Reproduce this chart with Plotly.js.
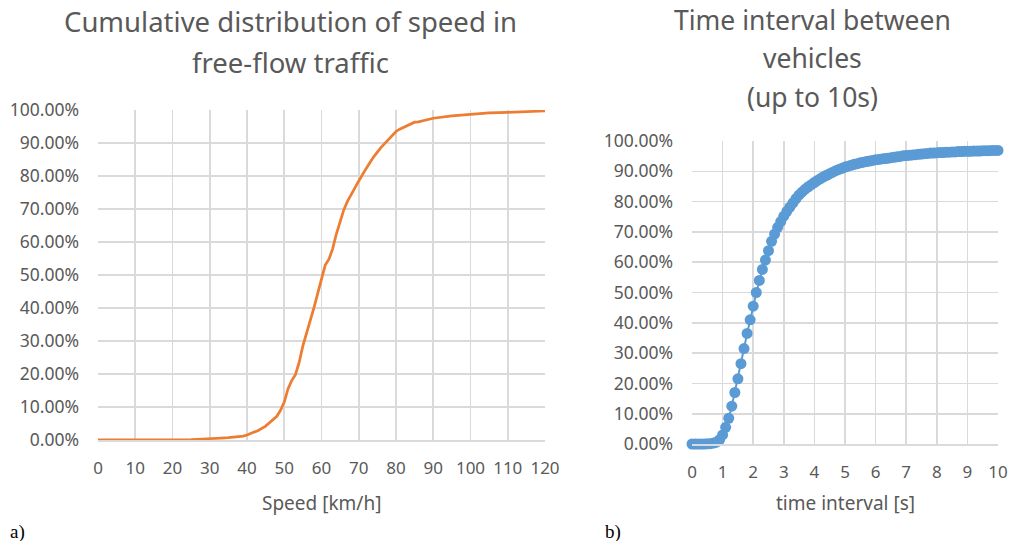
<!DOCTYPE html>
<html>
<head>
<meta charset="utf-8">
<script src="https://cdn.plot.ly/plotly-3.0.1.min.js"></script>
<style>
  html, body { margin: 0; padding: 0; background: #ffffff; }
  #chart { width: 1010px; height: 541px; }
</style>
</head>
<body>
<div id="chart"></div>
<script>
// ---- Chart a): cumulative distribution of speed ----
const speedKmh = [0,5,10,15,20,25,28,30,33,35,37,39,40,41,42,43,45,46,48,49,50,51,52,53,54,55,57,58,59,60,61,62,63,64,65,66,67,68,70,72,74,76,78,80,81,83,85,86,88,90,95,100,105,110,115,120];
const speedCdf = [0,0,0,0,0,0.001,0.003,0.005,0.006,0.007,0.009,0.012,0.015,0.019,0.024,0.029,0.042,0.052,0.072,0.090,0.115,0.155,0.180,0.198,0.235,0.285,0.360,0.402,0.445,0.485,0.530,0.548,0.580,0.625,0.665,0.698,0.724,0.745,0.785,0.823,0.858,0.887,0.912,0.935,0.942,0.952,0.963,0.964,0.970,0.975,0.982,0.987,0.991,0.993,0.995,0.997];

// ---- Chart b): time interval between vehicles (up to 10 s) ----
const intervalS = [0.0,0.1,0.2,0.3,0.4,0.5,0.6,0.7,0.8,0.9,
  1.0,1.1,1.2,1.3,1.4,1.5,1.6,1.7,1.8,1.9,
  2.0,2.1,2.2,2.3,2.4,2.5,2.6,2.7,2.8,2.9,
  3.0,3.1,3.2,3.3,3.4,3.5,3.6,3.7,3.8,3.9,
  4.0,4.1,4.2,4.3,4.4,4.5,4.6,4.7,4.8,4.9,
  5.0,5.1,5.2,5.3,5.4,5.5,5.6,5.7,5.8,5.9,
  6.0,6.1,6.2,6.3,6.4,6.5,6.6,6.7,6.8,6.9,
  7.0,7.1,7.2,7.3,7.4,7.5,7.6,7.7,7.8,7.9,
  8.0,8.1,8.2,8.3,8.4,8.5,8.6,8.7,8.8,8.9,
  9.0,9.1,9.2,9.3,9.4,9.5,9.6,9.7,9.8,9.9,10.0];
const intervalCdf = [0,0,0,0,0,0.0005,0.001,0.003,0.006,0.014,
  0.030,0.055,0.085,0.125,0.170,0.215,0.265,0.315,0.365,0.410,
  0.455,0.500,0.540,0.576,0.607,0.638,0.669,0.693,0.715,0.734,
  0.752,0.768,0.782,0.796,0.810,0.822,0.832,0.841,0.849,0.856,
  0.863,0.870,0.876,0.882,0.887,0.892,0.897,0.902,0.906,0.910,
  0.914,0.917,0.920,0.923,0.925,0.928,0.930,0.932,0.934,0.936,
  0.938,0.939,0.941,0.942,0.943,0.945,0.946,0.948,0.949,0.951,
  0.952,0.953,0.954,0.955,0.956,0.957,0.958,0.959,0.960,0.960,
  0.961,0.962,0.962,0.963,0.963,0.964,0.964,0.965,0.965,0.966,
  0.966,0.966,0.967,0.967,0.967,0.968,0.968,0.968,0.969,0.969,0.969];

const xTicksA = [0,10,20,30,40,50,60,70,80,90,100,110,120];
const xTicksB = [0,1,2,3,4,5,6,7,8,9,10];
const yTicks = [0,0.1,0.2,0.3,0.4,0.5,0.6,0.7,0.8,0.9,1.0];

const titleA = ["Cumulative distribution of speed in", "free-flow traffic"];
const titleB = ["Time interval between", "vehicles", "(up to 10s)"];
const xTitleA = "Speed [km/h]";
const xTitleB = "time interval [s]";

const GRAY = "#595959";
const GRID = "#dadada";
const FONT = "Noto Sans, Open Sans, sans-serif";

const traces = [
  {
    x: speedKmh, y: speedCdf, type: "scatter", mode: "lines",
    line: {color: "#ed7d31", width: 2.75},
    xaxis: "x", yaxis: "y", cliponaxis: false, hoverinfo: "x+y"
  },
  {
    x: intervalS, y: intervalCdf, type: "scatter", mode: "lines+markers",
    line: {color: "#5b9bd5", width: 2},
    marker: {color: "#5b9bd5", size: 11},
    xaxis: "x2", yaxis: "y2", cliponaxis: false, hoverinfo: "x+y"
  }
];

function xAxis(domain, range, ticks) {
  return {
    domain: domain, range: range, tickmode: "array", tickvals: ticks,
    showgrid: true, gridcolor: GRID, gridwidth: 1.6,
    zeroline: false, showline: true, linecolor: GRID, linewidth: 1.6, mirror: false,
    ticks: "", ticklabelstandoff: 12,
    tickfont: {family: FONT, size: 17, color: GRAY}, fixedrange: true
  };
}
function yAxis(domain, anchor) {
  return {
    domain: domain, range: [0, 1], tickmode: "array", tickvals: yTicks,
    tickformat: ".2%", anchor: anchor,
    showgrid: true, gridcolor: GRID, gridwidth: 1.6,
    zeroline: false, showline: false,
    ticks: "", ticklabelstandoff: 18,
    tickfont: {family: FONT, size: 17.5, color: GRAY}, fixedrange: true
  };
}

const annotations = [];
function addText(text, x, y, size, color, family) {
  annotations.push({
    text: text, x: x, y: y, xref: "paper", yref: "paper",
    xanchor: "center", yanchor: "middle", showarrow: false,
    font: {family: family || FONT, size: size, color: color || GRAY}
  });
}
const H = 541, W = 1010;
// chart a) title lines
addText(titleA[0], 290 / W, 1 - 22 / H, 27.5);
addText(titleA[1], 290 / W, 1 - 62 / H, 27.5);
// chart b) title lines
addText(titleB[0], 812 / W, 1 - 20 / H, 26.5);
addText(titleB[1], 812 / W, 1 - 58 / H, 26.5);
addText(titleB[2], 812 / W, 1 - 97 / H, 26.5);
// axis titles
addText(xTitleA, 321 / W, 1 - 503 / H, 19);
addText(xTitleB, 845 / W, 1 - 503 / H, 19);
// panel letters
annotations.push({text: "a)", x: 8 / W, y: 1 - 532 / H, xref: "paper", yref: "paper",
  xanchor: "left", yanchor: "middle", showarrow: false,
  font: {family: "Liberation Serif, Times New Roman, serif", size: 19, color: "#000000"}});
annotations.push({text: "b)", x: 603 / W, y: 1 - 532 / H, xref: "paper", yref: "paper",
  xanchor: "left", yanchor: "middle", showarrow: false,
  font: {family: "Liberation Serif, Times New Roman, serif", size: 19, color: "#000000"}});

const layout = {
  width: W, height: H,
  margin: {l: 0, r: 0, t: 0, b: 0},
  paper_bgcolor: "#ffffff", plot_bgcolor: "#ffffff",
  showlegend: false,
  xaxis: xAxis([98 / W, 545 / W], [0, 120], xTicksA),
  yaxis: yAxis([(H - 440) / H, (H - 110) / H], "x"),
  xaxis2: Object.assign(xAxis([692 / W, 998 / W], [0, 10], xTicksB), {anchor: "y2"}),
  yaxis2: yAxis([(H - 444) / H, (H - 141) / H], "x2"),
  annotations: annotations
};
layout.xaxis.anchor = "y";

Plotly.newPlot("chart", traces, layout, {displayModeBar: false, staticPlot: true});
</script>
</body>
</html>
